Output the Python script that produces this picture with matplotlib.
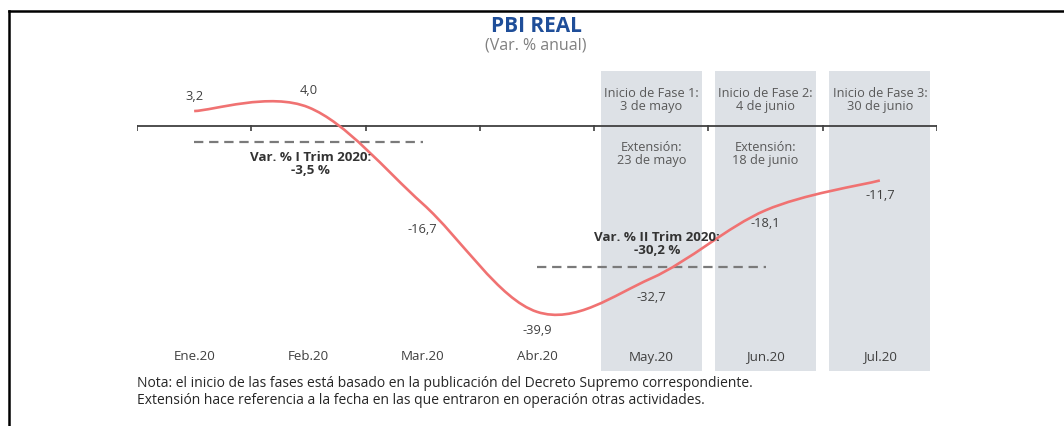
import numpy as np
import matplotlib.pyplot as plt
from matplotlib.path import Path
from matplotlib.patches import PathPatch
from matplotlib.lines import Line2D
import matplotlib.transforms as mtransforms

plt.rcParams['font.family'] = ['Open Sans', 'DejaVu Sans']

# data
months = ["Ene.20", "Feb.20", "Mar.20", "Abr.20", "May.20", "Jun.20", "Jul.20"]
pbi = [3.2, 4.0, -16.7, -39.9, -32.7, -18.1, -11.7]
pbi_labels = ["3,2", "4,0", "-16,7", "-39,9", "-32,7", "-18,1", "-11,7"]
trim_values = [-3.5, -30.2]
trim_spans = [(0, 2), (3, 5)]
trim_text = ["Var. % I Trim 2020:\n-3,5 %", "Var. % II Trim 2020:\n-30,2 %"]
fase_idx = [4, 5, 6]
fase_inicio = ["Inicio de Fase 1:\n3 de mayo", "Inicio de Fase 2:\n4 de junio",
               "Inicio de Fase 3:\n30 de junio"]
fase_ext = ["Extensión:\n23 de mayo", "Extensión:\n18 de junio", ""]

W, H = 1064, 427
fig = plt.figure(figsize=(W / 100, H / 100), dpi=100)
ax = fig.add_axes([137 / W, 1 - 372 / H, 800 / W, 300 / H])
ax.set_xlim(-0.5, 6.5)
ax.set_ylim(-52.6, 11.8)
ax.axis('off')

def fy(ypx):
    return 1 - ypx / H

tr = mtransforms.blended_transform_factory(ax.transData, fig.transFigure)

# shaded phase boxes
for i in fase_idx:
    ax.axvspan(i - 0.442, i + 0.442, color='#dde1e6', lw=0, zorder=0)

# zero axis with ticks at category boundaries
ax.axhline(0, color='#404040', lw=1.3, zorder=2)
for b in np.arange(-0.5, 7, 1.0):
    ax.plot([b, b], [-1.1, 0.2], color='#404040', lw=1.2, zorder=2,
            solid_capstyle='butt')

# smoothed line (bezier through points)
x = np.arange(len(pbi), dtype=float)
y = np.array(pbi)
verts = [(x[0], y[0])]
codes = [Path.MOVETO]
n = len(x)
for i in range(n - 1):
    p0 = (x[max(i - 1, 0)], y[max(i - 1, 0)])
    p1 = (x[i], y[i])
    p2 = (x[i + 1], y[i + 1])
    p3 = (x[min(i + 2, n - 1)], y[min(i + 2, n - 1)])
    c1 = (p1[0] + (p2[0] - p0[0]) / 6, p1[1] + (p2[1] - p0[1]) / 6)
    c2 = (p2[0] - (p3[0] - p1[0]) / 6, p2[1] - (p3[1] - p1[1]) / 6)
    verts += [c1, c2, p2]
    codes += [Path.CURVE4] * 3
ax.add_patch(PathPatch(Path(verts, codes), facecolor='none', edgecolor='#f07272',
                       lw=1.9, zorder=4))

# data labels
label_offsets = [11, 13, -18, -13, -13, -9, -10]
for i, (v, t) in enumerate(zip(pbi, pbi_labels)):
    ax.annotate(t, (i, v), xytext=(0, label_offsets[i]), textcoords='offset points',
                ha='center', va='center', fontsize=9.3, color='#404040', zorder=5)

# quarterly dashed lines and notes
trim_text_pos = [(1.02, 164), (4.05, 244)]
for (a, b), v, t, (tx, ty) in zip(trim_spans, trim_values, trim_text, trim_text_pos):
    ax.plot([a, b], [v, v], color='#7a7a7a', lw=1.6, dashes=(4.2, 2.6), zorder=3)
    fig.text(tx, fy(ty), t, transform=tr, ha='center', va='center', fontsize=9.6,
             fontweight='bold', color='#333333', linespacing=1.0)

# phase texts
for i, t1, t2 in zip(fase_idx, fase_inicio, fase_ext):
    fig.text(i, fy(100), t1, transform=tr, ha='center', va='center', fontsize=9.2,
             color='#595959', linespacing=1.0)
    if t2:
        fig.text(i, fy(154), t2, transform=tr, ha='center', va='center', fontsize=9.2,
                 color='#595959', linespacing=1.0)

# category labels
for i, m in enumerate(months):
    fig.text(i, fy(357), m, transform=tr, ha='center', va='center', fontsize=9.6,
             color='#404040')

# title
fig.text(536 / W, fy(27), "PBI REAL", ha='center', va='center', fontsize=15,
         fontweight='bold', color='#1f4e99')
fig.text(536 / W, fy(46), "(Var. % anual)", ha='center', va='center', fontsize=11.5,
         color='#808080')

# note
fig.text(137 / W, fy(384), "Nota: el inicio de las fases está basado en la publicación del Decreto Supremo correspondiente.",
         ha='left', va='center', fontsize=10, color='#262626')
fig.text(137 / W, fy(401), "Extensión hace referencia a la fecha en las que entraron en operación otras actividades.",
         ha='left', va='center', fontsize=10, color='#262626')

# frame
fig.add_artist(Line2D([9 / W, 1], [fy(12), fy(12)], color='black', lw=1.8))
fig.add_artist(Line2D([9 / W, 9 / W], [fy(12), 0], color='black', lw=1.8))

fig.savefig('out.png', dpi=100)
